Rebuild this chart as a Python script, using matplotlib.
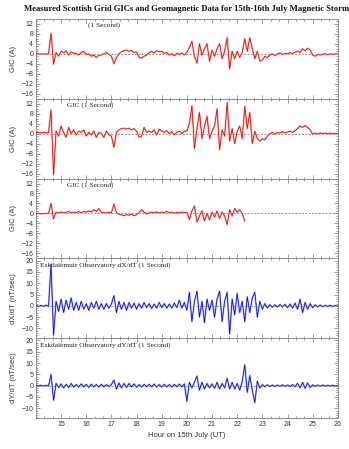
import numpy as np
import matplotlib
matplotlib.use("Agg")
import matplotlib.pyplot as plt
from matplotlib.ticker import MultipleLocator

# time axis: hours on 15th July, 0.1 h steps from 14.0 to 26.0
hours = np.linspace(14.0, 26.0, 121)

# GIC site 1 (A), one row per hour
gic1 = [0, 0, -0.2, 0, -0.1, 0, 8.3, -4.2, 0.5, -1,
        1, 0.3, 1.2, -0.5, 0.8, 0.2, 0.2, -0.5, 0.5, 1,
        -0.3, 0, -1, -0.5, -1.5, -0.6, -0.5, 0, 0.5, -0.3,
        -1, -4, -1.5, 0, 0.8, 1.2, 1.5, 1, 1.3, 0.5,
        0.8, -1.5, -1.7, -1, -0.5, 0.5, 1, 0.3, 1.2, 0.8,
        1, 0.2, 0.5, -0.5, 0, -0.8, 0.2, -0.3, 0.3, -0.5,
        0.5, 2.5, 5, -1, -3.8, 4, -0.5, 2, 4, -3,
        1.5, -1, 2, 4, -2, 1, 6.5, -6, 1, -2,
        1, -1.5, 0.5, 6, 1, 6.5, 2, -2, 1, -3,
        -2.5, -1, -1.5, -0.5, 0, -0.8, 0, 0.3, -0.3, 0.2,
        0, 0.4, 0.1, 0.6, 1, 0.5, 2, 1.2, 2.2, 1.5,
        -0.5, -1, -0.3, -0.5, -0.2, 0, -0.3, 0, -0.2, 0,
        -0.1]

# GIC site 2 (A)
gic2 = [0.3, 0.4, 0.3, 0.5, 0.3, 0.4, 9.5, -16.5, 1, -1,
        3, 0.5, -1.5, 2.5, 0, 1.5, -0.5, 1, 0.5, 1.5,
        -1, 0.5, -0.5, 1, -1.5, 0.5, 0, -1.5, 1, -0.5,
        -1, -5.5, 0.5, 1.5, 2, 2.2, 1.8, 2.2, 1.5, 2,
        1, -1.5, -1, 2.5, 0.5, 1, 0.5, 1.5, -0.5, 1.8,
        1, 0.5, 1.2, 0, 0.8, -0.5, 0.5, 1, 0, 1,
        1, 4, 11.2, -6, 2, 8.5, -2, 3, 7, -2,
        1, 3, 10, -6.5, 1.5, -1, 12.5, -3, 2, -4,
        1, 3, -2, 11, 2, 8.5, -4, 1, -2, -3,
        -2, -2.5, -1, 0, 0.5, -0.3, 0.5, 0.2, 0.8, 0.3,
        0.6, 1, 0.5, 1.2, 2, 3, 2.5, 3.2, 2.5, 1.5,
        -0.3, 0.2, -0.2, 0.3, 0, 0.2, -0.1, 0.2, 0, 0.1,
        0]

# GIC site 3 (A), record stops at 22.3 h
gic3 = [-0.1, 0, -0.2, 0, -0.1, 0, 4, -2.2, 0.5, 0.2,
        0.6, 0.3, 0.4, 0.8, 0.3, 0.5, 0.4, 0.7, 0.3, 0.8,
        0.5, 1, 0.6, 1.5, 0.8, 2, 0.5, 0.3, 0.2, 0.5,
        0.3, 3.8, 0.3, -0.3, -0.6, -0.8, -0.5, -0.7, -0.3, -0.9,
        -0.5, 0.3, 1.5, 0.5, -0.2, 0.2, 0.5, 0.3, 0.6, 0.2,
        0.5, 0.4, 0.8, 0.3, 0.5, 0.1, 0.4, 0.2, 0.6, 0.3,
        0.5, -2.5, 1, 3, -3.5, -1, 1, -3, 0, -2.5,
        0.5, -1.5, 1, -2, 0.5, -1, -4.5, 1.5, -1, 2,
        0.5, 1.5, 0, -3]

# Eskdalemuir dX/dT (nT/sec)
dxdt = [0.3, -0.3, 0.2, -0.2, 0.3, -0.2, 18.5, -13, 2, -2.5,
        3, -3, 2.5, -1.5, 3.5, -2, 1.5, -2, 2, -1.5,
        1, -2, 1.5, -1, 2, -1.5, 1, -1.5, 1, -1,
        0.8, 4.5, -3, 2, -1.5, 1.5, -2, 1.5, -1, 1.2,
        -1.5, 1, -1, 1.5, -0.8, 1, -1.2, 0.8, -1, 1.5,
        -0.8, 1, -1, 0.8, -1, 1.2, -0.8, 2.5, -1, 1.5,
        -2, 6, -7, 2, 6.5, -5, 2, -7.5, 3, -2,
        2.5, -5, 3, 6.5, -7, 2, 6, -12.5, 3, -4,
        5.5, -3, 2, -7, 4, -3, 3.5, 6, -5, 2,
        -1.5, 1, -1, 0.5, -0.6, 0.5, -0.5, 0.6, -0.5, 0.7,
        -0.8, 0.8, -1, 1.2, -1.5, 3, -3, 1.5, -1.5, 1,
        -0.8, 0.5, -0.5, 0.4, -0.4, 0.3, -0.3, 0.3, -0.3, 0.2,
        -0.2]

# Eskdalemuir dY/dT (nT/sec)
dydt = [0.2, -0.2, 0.2, -0.2, 0.2, -0.2, 5, -6.5, 1, -0.8,
        0.8, -1, 0.6, -0.8, 1, -0.6, 0.5, -0.6, 0.8, -0.5,
        0.6, -0.8, 0.7, -0.5, 0.5, -0.6, 0.6, -0.5, 0.5, -0.4,
        0.5, 2.5, -1.5, 1.2, -1, 1, -0.8, 1, -0.6, 0.8,
        -0.7, 0.5, -0.6, 0.6, -0.5, 0.6, -0.5, 0.7, -0.6, 0.5,
        -0.6, 0.6, -0.5, 0.5, -0.6, 0.6, -0.5, 0.7, -0.5, 0.8,
        -7, 1.5, -1, 1.5, 4.3, -2, 1.5, -1.5, 1, -1,
        0.8, -1.2, 1.5, -1.5, 1, -1, 3.2, -1.5, 1.5, -1.5,
        1, -2, 2, 9.2, -3, 4.5, -2, -7.5, 2, -1,
        0.5, -0.5, 0.4, -0.4, 0.3, -0.4, 0.3, -0.3, 0.4, -0.3,
        0.3, -0.4, 0.5, -0.5, 1, -1, 1.5, -1.2, 1.2, -0.8,
        0.4, -0.3, 0.3, -0.3, 0.3, -0.2, 0.2, -0.2, 0.2, -0.2,
        0.1]

panel_titles = ["(1 Second)", "GIC (1 Second)", "GIC (1 Second)",
                "Eskdalemuir Observatory dX/dT (1 Second)",
                "Eskdalemuir Observatory dY/dT (1 Second)"]
panel_ylabels = ["GIC (A)", "GIC (A)", "GIC (A)", "dX/dT (nT/sec)", "dY/dT (nT/sec)"]
x_ticks = [15, 16, 17, 18, 19, 20, 21, 22, 23, 24, 25, 26]

SANS = "Liberation Sans"
SERIF = "Liberation Serif"
FRAME = "#8c8c8c"
TEXT = "#333333"
ZERO = "#a09080"


def draw_trace(ax, y, dark, light):
    x = hours[:len(y)]
    ax.plot(x, y, color=light, lw=1.3, zorder=2)
    ax.plot(x, y, color=dark, lw=0.5, zorder=3)


def style_axis(ax, gic):
    ax.set_xlim(14, 26)
    if gic:
        ax.set_ylim(-18, 14)
        ax.set_yticks([12, 8, 4, 0, -4, -8, -12, -16])
    else:
        ax.set_ylim(-14.3, 21)
        ax.set_yticks([20, 15, 10, 5, 0, -5, -10])
    ax.yaxis.set_minor_locator(MultipleLocator(1))
    ax.set_xticks(x_ticks)
    ax.xaxis.set_minor_locator(MultipleLocator(1 / 3))
    ax.axhline(0, color=ZERO, lw=0.7, ls=(0, (2, 1.5)), zorder=1)
    ax.tick_params(which="both", direction="in", top=True, right=True,
                   color=FRAME, width=0.6, labelsize=5, labelcolor=TEXT, pad=2)
    ax.tick_params(which="major", length=3)
    ax.tick_params(which="minor", length=1.5)
    for sp in ax.spines.values():
        sp.set_color(FRAME)
        sp.set_linewidth(0.7)
    for lab in ax.get_xticklabels() + ax.get_yticklabels():
        lab.set_fontfamily(SANS)


def main():
    fig, axes = plt.subplots(5, 1, figsize=(3.49, 4.49), dpi=100, sharex=True)
    fig.subplots_adjust(left=0.103, right=0.968, top=0.958, bottom=0.069, hspace=0)

    series = [gic1, gic2, gic3, dxdt, dydt]
    for k, ax in enumerate(axes):
        gic = k < 3
        if gic:
            draw_trace(ax, series[k], "#cc0000", "#ffb0b0")
        else:
            draw_trace(ax, series[k], "#0000b4", "#b0b0ff")
        style_axis(ax, gic)
        ax.set_ylabel(panel_ylabels[k], fontsize=5.5, family=SANS, color=TEXT, labelpad=3)
        tx = 0.173 if k == 0 else (0.103 if k < 3 else 0.013)
        ax.text(tx, 0.955, panel_titles[k], transform=ax.transAxes, ha="left", va="top",
                fontsize=5.3, family=SERIF, color="#222222")
        if k < 4:
            ax.tick_params(labelbottom=False)

    axes[-1].set_xlabel("Hour on 15th July (UT)", fontsize=5.5, family=SANS, color=TEXT, labelpad=3)

    fig.text(0.535, 0.981, "Measured Scottish Grid GICs and Geomagnetic Data for 15th-16th July Magnetic Storm",
             ha="center", va="center", fontsize=6.2, family=SERIF, weight="bold", color="#111111")

    fig.savefig("out.png", dpi=100)


if __name__ == "__main__":
    main()
